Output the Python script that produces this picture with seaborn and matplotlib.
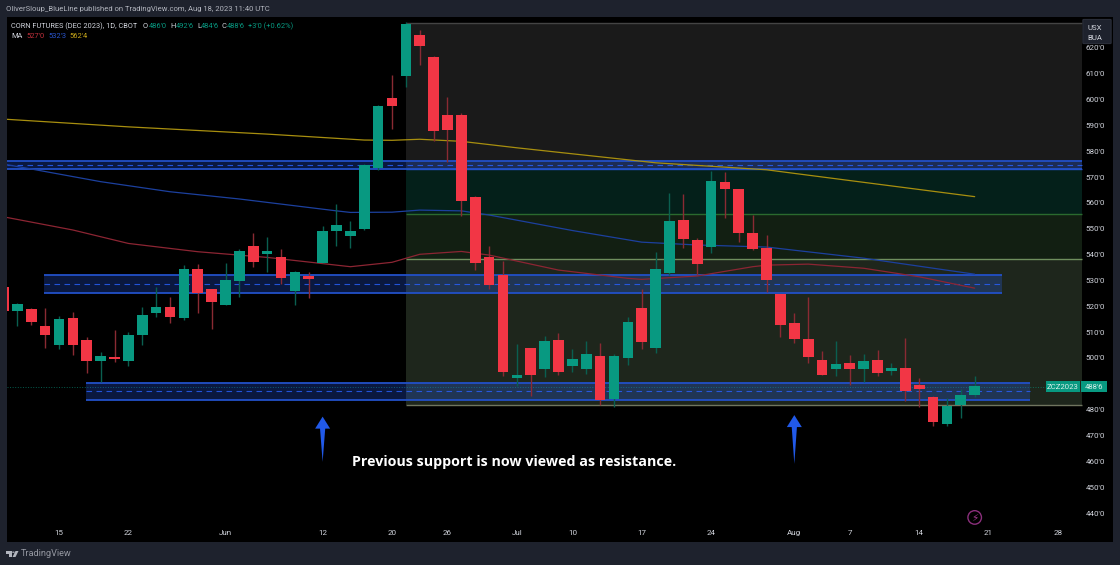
import numpy as np
import pandas as pd
import matplotlib
matplotlib.use("Agg")
import matplotlib.pyplot as plt
from matplotlib.patches import Polygon, FancyBboxPatch, Rectangle, Circle
import seaborn as sns

# candles, prices in cents/bu, first bar is the one cut off by the left edge
bar_idx = list(range(-1, 70))
opens = [527.5, 518.3, 518.8, 512.2, 505.1, 515.3, 507.0, 498.9, 500.2, 498.9, 509.0, 517.2, 519.8, 515.6,
         534.3, 526.5, 520.3, 529.6, 543.2, 540.4, 538.9, 526.0, 531.8, 536.8, 549.1, 547.2, 549.7, 573.3,
         600.4, 609.0, 624.8, 616.5, 594.1, 594.0, 562.1, 539.0, 532.1, 492.2, 504.0, 495.6, 507.1, 497.0,
         495.9, 500.6, 484.0, 500.0, 519.2, 503.8, 532.7, 553.3, 545.5, 543.0, 567.9, 565.2, 548.2, 542.4,
         524.7, 513.4, 507.3, 499.1, 495.6, 497.9, 495.6, 499.1, 494.8, 496.0, 489.5, 485.0, 474.6, 481.9, 485.8]
highs = [527.5, 521.1, 519.4, 519.4, 516.3, 517.6, 508.1, 502.4, 510.8, 510.0, 519.7, 527.3, 523.4, 535.8,
         536.3, 526.5, 536.6, 542.0, 548.3, 546.8, 542.0, 533.5, 533.1, 550.9, 559.5, 553.0, 574.9, 598.0,
         609.4, 630.0, 626.8, 617.0, 600.9, 594.6, 562.5, 543.3, 537.6, 505.3, 504.0, 508.4, 509.5, 503.3,
         506.5, 505.6, 501.4, 515.8, 526.5, 540.8, 563.7, 563.3, 546.3, 572.2, 571.8, 565.5, 555.3, 547.5,
         524.7, 517.4, 523.4, 502.7, 506.5, 501.1, 501.4, 502.9, 497.9, 507.7, 492.1, 485.4, 484.4, 487.8, 492.9]
lows = [518.3, 512.3, 512.6, 504.0, 503.4, 501.1, 494.0, 490.8, 498.5, 497.0, 505.0, 515.7, 513.6, 514.5,
        517.4, 511.2, 520.3, 523.7, 535.3, 533.4, 528.5, 520.5, 523.3, 536.8, 543.4, 542.6, 549.5, 572.7,
        588.5, 604.7, 613.3, 583.8, 575.9, 555.0, 534.0, 526.5, 493.1, 489.0, 485.4, 492.7, 493.5, 494.5,
        493.9, 481.8, 481.1, 497.4, 503.4, 502.0, 532.1, 542.5, 532.1, 540.5, 554.0, 544.8, 541.7, 525.5,
        508.2, 505.9, 497.9, 493.4, 493.1, 489.6, 490.8, 493.1, 493.4, 483.3, 481.1, 473.8, 473.8, 476.8, 485.0]
closes = [518.3, 520.7, 513.8, 508.7, 515.0, 505.2, 498.9, 500.7, 499.7, 509.0, 516.7, 519.9, 515.9, 534.6,
          525.2, 521.6, 530.0, 541.4, 537.0, 541.2, 530.8, 533.1, 530.6, 549.3, 551.4, 549.3, 574.6, 597.6,
          597.4, 629.0, 620.8, 587.9, 588.2, 560.9, 536.7, 528.3, 494.7, 493.5, 493.4, 506.7, 494.4, 499.6,
          501.4, 483.6, 500.6, 513.9, 506.0, 534.5, 553.0, 546.1, 536.2, 568.3, 565.3, 548.3, 542.1, 530.0,
          512.9, 507.3, 500.5, 493.4, 497.5, 495.6, 498.9, 494.2, 496.3, 487.1, 487.8, 475.3, 481.5, 485.6, 489.0]

ma50_idx = [-1, 4, 8, 13, 18, 24, 27, 29, 32, 34, 39, 44, 45, 49, 53, 54, 57, 61, 65, 69]
ma50_val = [554.6, 549.5, 544.3, 541.1, 538.9, 535.3, 537.0, 540.1, 541.2, 539.8, 534.0, 530.8, 530.4, 531.7,
            535.3, 535.9, 536.3, 534.7, 531.4, 527.0]
ma100_idx = [-1, 1, 6, 11, 16, 23, 24, 27, 29, 32, 34, 36, 40, 45, 49, 54, 61, 69]
ma100_val = [575.0, 573.1, 568.2, 564.3, 561.5, 556.9, 556.3, 556.4, 557.2, 556.9, 555.3, 553.3, 549.3, 544.8,
             543.7, 542.9, 538.6, 532.4]
ma200_idx = [-1, 8, 18, 25, 27, 29, 32, 36, 46, 54, 56, 69]
ma200_val = [592.4, 589.4, 586.6, 584.3, 584.2, 584.6, 583.8, 581.3, 575.5, 572.8, 571.4, 562.4]

# zones: low, high, mid, first bar, last bar
zone_low = [573.1, 525.1, 483.8]
zone_high = [576.0, 531.9, 490.4]
zone_mid = [574.5, 528.5, 487.1]
zone_start = [-0.75, 1.95, 4.95]
zone_end = [76.7, 71.0, 73.0]

# fib retracement levels
fib_levels = [481.7, 538.1, 555.8, 573.2, 629.7]
fib_fills = ['#1e261c', '#121f12', '#04201a', '#1a1a1a']
fib_lines = ['#70755f', '#6f8f5e', '#2a6a2e', '#2250c8', '#444444']

price_ticks = list(range(440, 630, 10))
price_labels = [f"{p}'0" for p in price_ticks]
date_ticks = [3, 8, 15, 22, 27, 31, 36, 40, 45, 50, 56, 60, 65, 70, 75]
date_labels = ['15', '22', 'Jun', '12', '20', '26', 'Jul', '10', '17', '24', 'Aug', '7', '14', '21', '28']

arrow_idx = [22, 56]
arrow_tip = [477.3, 477.9]
arrow_tail = [459.8, 459.0]
last_price = 488.75

UP = '#089981'
DOWN = '#f23645'
FRAME = '#1e222d'

sns.set_theme(style='dark', rc={'axes.facecolor': 'black', 'figure.facecolor': FRAME,
                                'axes.edgecolor': 'black', 'axes.grid': False})
plt.rcParams['font.family'] = ['Roboto', 'DejaVu Sans']


def fx(x):
    return x / 1120


def fy(y):
    return 1 - y / 565


fig = plt.figure(figsize=(11.2, 5.65), dpi=100)
ax = fig.add_axes([fx(7), fy(542), fx(1106), 525 / 565])

# fib background
for i in range(4):
    ax.fill_between([28, 76.7], fib_levels[i], fib_levels[i + 1], color=fib_fills[i], lw=0, zorder=1)
for lev, col in zip(fib_levels, fib_lines):
    ax.hlines(lev, 28, 76.7, color=col, lw=1.0, zorder=1.2)

# last price line
ax.hlines(last_price, -0.75, 74.6, color=UP, lw=0.7, ls=':', alpha=0.6, zorder=1.5)

# zones
for lo, hi, mid, a, b in zip(zone_low, zone_high, zone_mid, zone_start, zone_end):
    ax.fill_between([a, b], lo, hi, color='#2962ff', alpha=0.25, lw=0, zorder=1.6)
    ax.hlines([lo, hi], a, b, color='#2250c8', lw=1.3, zorder=1.7)
    ax.hlines(mid, a, b, color='#2962ff', lw=0.8, ls=(0, (5, 4)), alpha=0.8, zorder=1.7)

# moving averages
sns.lineplot(x=ma50_idx, y=ma50_val, color='#8c2533', lw=0.9, ax=ax, zorder=2)
sns.lineplot(x=ma100_idx, y=ma100_val, color='#1c409e', lw=0.9, ax=ax, zorder=2)
sns.lineplot(x=ma200_idx, y=ma200_val, color='#a88f0f', lw=0.9, ax=ax, zorder=2)

# candles
df = pd.DataFrame({'idx': bar_idx, 'open': opens, 'high': highs, 'low': lows, 'close': closes})
df['height'] = (df['close'] - df['open']).abs()
df['base'] = df[['open', 'close']].min(axis=1)
up = df[df['close'] >= df['open']]
down = df[df['close'] < df['open']]

ax.vlines(up['idx'], up['low'], up['high'], color='#0a5f50', lw=1.0, zorder=3)
ax.vlines(down['idx'], down['low'], down['high'], color='#8a2a33', lw=1.0, zorder=3)
sns.barplot(data=up, x='idx', y='height', bottom=up['base'].values, native_scale=True, width=0.77,
            color=UP, saturation=1, errorbar=None, linewidth=0, ax=ax, zorder=4)
sns.barplot(data=down, x='idx', y='height', bottom=down['base'].values, native_scale=True, width=0.77,
            color=DOWN, saturation=1, errorbar=None, linewidth=0, ax=ax, zorder=4)

# arrows, shape given in pixels around the tip
px_x = 13.87
px_y = 2.585
for i, tip, tail in zip(arrow_idx, arrow_tip, arrow_tail):
    pts = [(i, tip), (i + 7.5 / px_x, tip - 12 / px_y), (i + 2.6 / px_x, tip - 12 / px_y), (i, tail),
           (i - 2.6 / px_x, tip - 12 / px_y), (i - 7.5 / px_x, tip - 12 / px_y)]
    ax.add_patch(Polygon(pts, closed=True, color='#2159e8', lw=0, zorder=5))

ax.set_xlim(-0.75, 78.97)
ax.set_ylim(428.8, 631.9)
ax.set_xlabel('')
ax.set_ylabel('')
ax.set_xticks(date_ticks)
ax.set_xticklabels(date_labels)
ax.set_yticks(price_ticks)
ax.set_yticklabels(price_labels)
ax.tick_params(axis='x', bottom=False, length=0, pad=-8.3, labelsize=5.8, colors='#d1d4dc')
ax.tick_params(axis='y', left=False, right=False, length=0, labelleft=False, labelright=True, pad=-19.5,
               labelsize=5.8, colors='#d1d4dc')
for s in ax.spines.values():
    s.set_visible(False)


def label(x, y, s, color='#d1d4dc', size=5.4, **kw):
    fig.text(fx(x), fy(y), s, color=color, fontsize=size, va='center', **kw)


# header
label(6, 9, 'OliverSloup_BlueLine published on TradingView.com, Aug 18, 2023 11:40 UTC', color='#b2b5be', size=5.5)
label(11, 26, 'CORN FUTURES (DEC 2023), 1D, CBOT', size=5.3)
for x, s in [(143, 'O'), (170, 'H'), (197, 'L'), (222, 'C')]:
    label(x, 26, s)
for x, s in [(148.5, "486'0"), (175.5, "492'6"), (201, "484'6"), (226.5, "488'6"), (248, "+3'0 (+0.62%)")]:
    label(x, 26, s, color=UP)
label(11, 37, 'MA')
label(26, 37, "527'0", color='#c2303c')
label(48, 37, "532'3", color='#2a56d0')
label(69, 37, "562'4", color='#c9a81a')

# note
label(352, 462, 'Previous support is now viewed as resistance.', color='white', size=10.3,
      fontweight='bold', family=['Open Sans', 'DejaVu Sans'])

# currency box
fig.add_artist(FancyBboxPatch((fx(1084), fy(43)), fx(26), 23 / 565, boxstyle='round,pad=0.001',
                              fc=FRAME, ec='#2a2e39', lw=0.8, zorder=5))
label(1095, 27.5, 'USX', ha='center', zorder=6, size=5.6)
label(1095, 37.5, 'BUA', ha='center', zorder=6, size=5.6)

# last price tags
fig.add_artist(Rectangle((fx(1046), fy(392)), fx(34), 11 / 565, fc=UP, lw=0, zorder=5))
fig.add_artist(Rectangle((fx(1081), fy(392)), fx(26), 11 / 565, fc=UP, lw=0, zorder=5))
label(1063, 386.7, 'ZCZ2023', color='#d8f0ea', ha='center', zorder=6, size=5.6)
label(1094, 386.7, "488'6", color='#d8f0ea', ha='center', zorder=6, size=5.6)

# flash marker at the bottom
ax.scatter([69], [438.3], s=95, facecolor='none', edgecolor='#8b2f7c', lw=1.0, zorder=5)
ax.text(69, 438.3, '\u26a1', color='#a33a92', fontsize=7.5, ha='center', va='center',
        family='DejaVu Sans', zorder=6)

# footer logo
for pts in ([(6, 551), (12, 551), (12, 557), (9, 557), (9, 553.5), (6, 553.5)],
            [(15.5, 551), (18.5, 551), (15.5, 557), (12.5, 557)]):
    fig.add_artist(Polygon([(fx(a), fy(b)) for a, b in pts], closed=True, fc='#b2b5be', lw=0, zorder=5))
fig.add_artist(Circle((fx(13.4), fy(552.2)), 1.3 / 1120, fc='#b2b5be', lw=0, zorder=5))
label(21, 554, 'TradingView', color='#9598a1', size=6.6)

fig.savefig('out.png', dpi=100, facecolor=FRAME)
